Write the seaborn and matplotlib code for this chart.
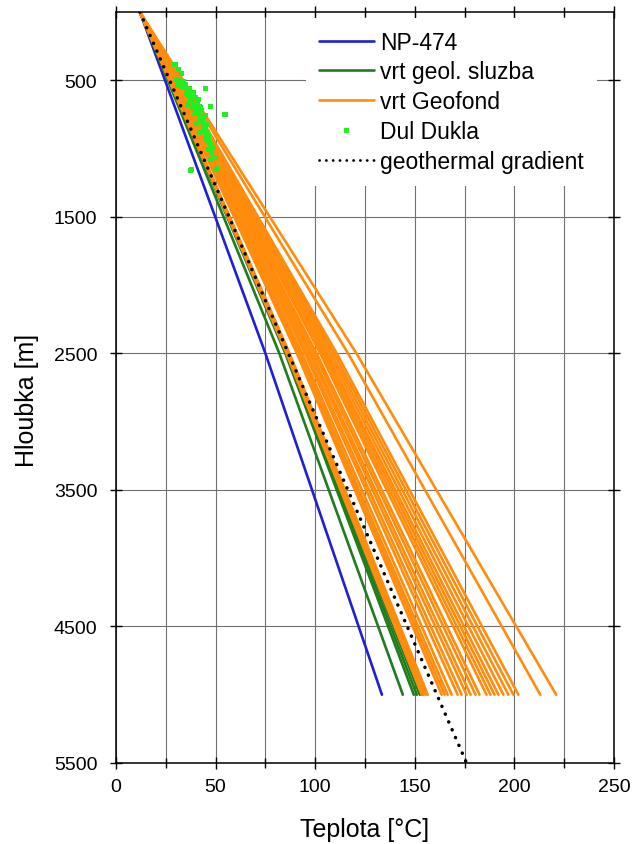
import numpy as np
import pandas as pd
import matplotlib
matplotlib.use("Agg")
import matplotlib.pyplot as plt
from matplotlib.lines import Line2D
from matplotlib.ticker import MultipleLocator, FixedLocator
import seaborn as sns

# ---------------- data ----------------
depth_nodes = [0, 2500, 5000]          # m
surface_temp = 12.0                    # degC at 0 m

np474_temps = [12.0, 75.0, 133.5]

geol_end = [144.0, 149.5, 151.0, 152.5, 153.5]
geol_mid = [82.0, 85.0, 85.5, 86.3, 86.8]

geofond_end = [153.5, 154.5, 155.5, 156.5, 163.5, 165.0, 166.5, 168.5, 171.5,
               173.5, 176.0, 178.0, 180.5, 182.5, 186.0, 188.0, 190.0, 192.0,
               194.5, 197.0, 199.5, 202.0, 213.0, 221.0]
geofond_mid = [85.6, 86.1, 86.6, 87.1, 90.8, 91.6, 92.3, 93.4, 94.9,
               96.0, 97.3, 98.3, 99.6, 100.7, 102.5, 103.5, 104.6, 105.6,
               106.9, 108.2, 109.5, 110.8, 116.5, 120.7]

gradient_depth = [0, 5500]
gradient_temp = [12.0, 176.0]

dukla_depth = [381, 384, 420, 450, 491, 499, 510, 530, 545, 560, 560, 575, 589,
               594, 605, 615, 625, 640, 650, 660, 672, 685, 692, 692, 699, 710,
               720, 735, 748, 750, 760, 775, 790, 805, 821, 835, 850, 870, 885,
               900, 915, 931, 950, 970, 992, 1005, 1030, 1066, 1078, 1146, 1151,
               1156, 1164, 600, 640, 700, 760, 820, 880, 540, 680, 740]
dukla_temp = [29.6, 30.0, 31.5, 33.0, 30.5, 31.6, 34.0, 35.0, 33.5, 45.0, 37.0,
              36.0, 38.8, 38.5, 39.0, 36.5, 40.0, 38.0, 37.5, 41.0, 39.0, 40.0,
              41.8, 47.5, 42.2, 40.5, 43.0, 41.0, 55.0, 54.7, 42.0, 44.0, 42.5,
              43.5, 45.5, 44.0, 45.0, 44.5, 46.0, 45.5, 47.0, 45.5, 46.5, 47.5,
              48.9, 46.3, 48.0, 49.7, 47.2, 50.9, 50.5, 38.0, 37.6, 35.5, 41.5,
              38.5, 45.0, 40.5, 42.0, 31.0, 36.0, 39.5]

x_ticks = [0, 50, 100, 150, 200, 250]
y_ticks = [500, 1500, 2500, 3500, 4500, 5500]

# ---------------- build tables ----------------
rows = []
rows += [("NP-474", "np", d, t) for d, t in zip(depth_nodes, np474_temps)]
for i, (m, e) in enumerate(zip(geol_mid, geol_end)):
    for d, t in zip(depth_nodes, [surface_temp, m, e]):
        rows.append(("vrt geol. sluzba", f"g{i}", d, t))
for i, (m, e) in enumerate(zip(geofond_mid, geofond_end)):
    for d, t in zip(depth_nodes, [surface_temp, m, e]):
        rows.append(("vrt Geofond", f"o{i}", d, t))
lines_df = pd.DataFrame(rows, columns=["series", "well", "depth", "temp"])
dukla_df = pd.DataFrame({"depth": dukla_depth, "temp": dukla_temp})
grad_df = pd.DataFrame({"depth": gradient_depth, "temp": gradient_temp})

c_blue = "#1f1fd6"
c_green = "#1e7d1e"
c_orange = "#ff8c0c"
c_lime = "#22ee22"

# ---------------- style ----------------
sns.set_style("white")
plt.rcParams["font.family"] = ["Liberation Sans", "DejaVu Sans"]
plt.rcParams["axes.linewidth"] = 1.1
plt.rcParams["text.color"] = "black"
plt.rcParams["axes.labelcolor"] = "black"
plt.rcParams["xtick.color"] = "black"
plt.rcParams["ytick.color"] = "black"

fig = plt.figure(figsize=(6.32, 8.45), dpi=100)
ax = fig.add_axes([116 / 632, 1 - 764 / 845, 498 / 632, 751 / 845])
ax.set_axisbelow(True)

order = ["NP-474", "vrt geol. sluzba", "vrt Geofond"]
pal = {"NP-474": c_blue, "vrt geol. sluzba": c_green, "vrt Geofond": c_orange}
for s in order:
    sub = lines_df[lines_df.series == s]
    sns.lineplot(data=sub, x="temp", y="depth", units="well", estimator=None,
                 color=pal[s], linewidth=1.9, sort=False, ax=ax, legend=False)

sns.scatterplot(data=dukla_df, x="temp", y="depth", marker="s", s=13,
                color=c_lime, edgecolor="none", ax=ax, legend=False, zorder=4)

sns.lineplot(data=grad_df, x="temp", y="depth", color="black", linewidth=2.5,
             linestyle=(0, (0.05, 2.4)), dash_capstyle="round", sort=False,
             ax=ax, legend=False, zorder=5)

ax.set_xlim(0, 250)
ax.set_ylim(5500, 0)

ax.xaxis.set_major_locator(FixedLocator(x_ticks))
ax.xaxis.set_minor_locator(MultipleLocator(25))
ax.yaxis.set_major_locator(FixedLocator(y_ticks))
ax.set_xticklabels([str(v) for v in x_ticks])
ax.set_yticklabels([str(v) for v in y_ticks])

ax.grid(True, which="major", axis="both", color="#707070", linewidth=0.8)
ax.grid(True, which="minor", axis="x", color="#707070", linewidth=0.8)

ax.tick_params(axis="both", which="both", direction="inout", top=True,
               right=True, bottom=True, left=True, color="black", width=1.0,
               labelcolor="black")
ax.tick_params(axis="both", which="major", length=9, labelsize=14)
ax.tick_params(axis="x", which="major", pad=6)
ax.tick_params(axis="y", which="major", pad=9)
ax.tick_params(axis="both", which="minor", length=7)

for sp in ax.spines.values():
    sp.set_color("black")
    sp.set_linewidth(1.1)

ax.set_xlabel("Teplota [°C]", fontsize=18, labelpad=16, color="black")
ax.set_ylabel("Hloubka [m]", fontsize=18, labelpad=9, color="black")
ax.yaxis.set_label_coords(-0.155, 0.484)

handles = [
    Line2D([], [], color=c_blue, linewidth=1.9),
    Line2D([], [], color=c_green, linewidth=1.9),
    Line2D([], [], color=c_orange, linewidth=1.9),
    Line2D([], [], color=c_lime, marker="s", markersize=3.5, linestyle="none"),
    Line2D([], [], color="black", linewidth=2.0, linestyle=(0, (0.05, 2.4)),
           dash_capstyle="round"),
]
labels = ["NP-474", "vrt geol. sluzba", "vrt Geofond", "Dul Dukla",
          "geothermal gradient"]
leg = ax.legend(handles, labels, loc="upper left",
                bbox_to_anchor=((306 - 116) / 498, 1 - 6 / 751),
                fontsize=16.5, frameon=True, fancybox=False, framealpha=1,
                facecolor="white", edgecolor="none", borderpad=0.55,
                handlelength=2.4, handletextpad=0.3, labelspacing=0.3,
                borderaxespad=0)
for t in leg.get_texts():
    t.set_color("black")
leg.set_zorder(10)

fig.savefig("out.png", dpi=100)
